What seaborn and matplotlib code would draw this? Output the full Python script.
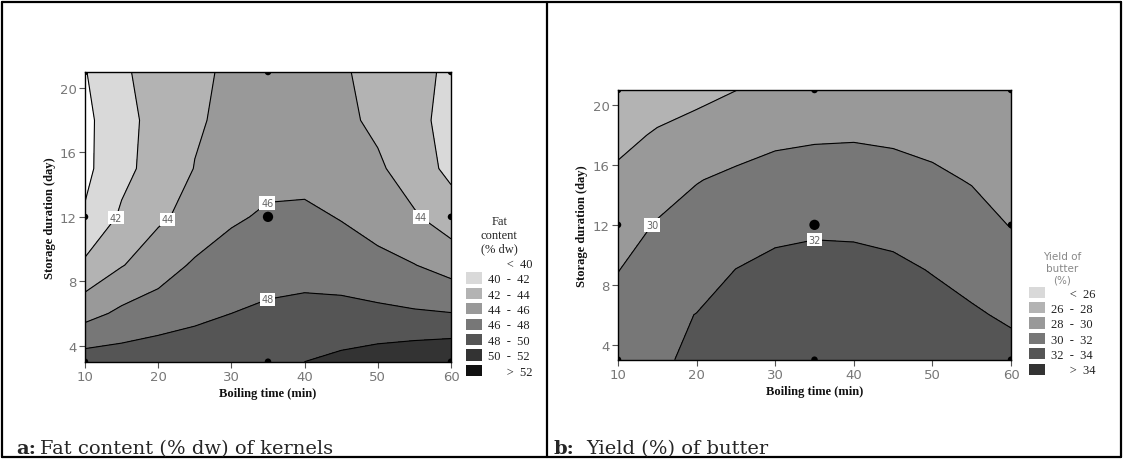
import numpy as np
import pandas as pd
import matplotlib
matplotlib.use("Agg")
import matplotlib.pyplot as plt
import seaborn as sns
from matplotlib.patches import Patch
from matplotlib.lines import Line2D

# ---------------- data ----------------
boil_time = [10, 15, 20, 25, 30, 35, 40, 45, 50, 55, 60]
storage_days = [3, 6, 9, 12, 15, 18, 21]

# fat content (% dw) of kernels, rows = storage_days, cols = boil_time
fat_content = [
    [49.0, 49.0, 49.2, 49.4, 49.6, 49.8, 50.0, 50.43, 50.94, 51.4, 51.8],
    [45.3, 46.4, 47.0, 47.5, 48.0, 48.25, 48.45, 48.6, 48.4, 48.2, 48.05],
    [42.35, 43.9, 45.05, 46.27, 47.0, 47.4, 47.4, 47.0, 46.6, 46.05, 45.2],
    [40.2, 42.3, 43.7, 44.6, 45.7, 46.3, 46.4, 45.9, 45.1, 44.2, 43.0],
    [39.55, 41.43, 42.84, 44.05, 44.6, 45.3, 45.3, 44.9, 44.3, 43.0, 41.5],
    [39.57, 41.23, 42.8, 43.8, 44.4, 44.9, 44.9, 44.45, 43.6, 42.5, 41.4],
    [39.9, 41.75, 42.67, 43.57, 44.35, 45.0, 44.9, 44.2, 43.47, 42.57, 41.63],
]

# yield (%) of butter
butter_yield = [
    [31.4, 31.8, 32.25, 32.9, 33.3, 33.5, 33.5, 33.3, 33.1, 32.8, 32.6],
    [30.7, 31.6, 32.03, 32.6, 33.0, 33.2, 33.2, 33.0, 32.6, 32.2, 31.75],
    [29.95, 31.0, 31.32, 32.02, 32.45, 32.6, 32.55, 32.35, 31.92, 31.44, 30.85],
    [29.15, 30.13, 30.63, 31.17, 31.53, 31.7, 31.66, 31.48, 31.12, 30.67, 29.93],
    [28.35, 29.15, 29.93, 30.33, 30.6, 30.75, 30.76, 30.6, 30.32, 29.9, 29.45],
    [27.55, 28.16, 28.68, 29.25, 29.67, 29.8, 29.85, 29.74, 29.5, 29.2, 28.9],
    [26.8, 27.2, 27.48, 27.98, 28.7, 28.9, 28.95, 28.9, 28.8, 28.5, 28.3],
]

design_time = [10, 10, 10, 35, 35, 35, 60, 60, 60]
design_days = [3, 12, 21, 3, 12, 21, 3, 12, 21]

fat_levels = [40, 42, 44, 46, 48, 50, 52]
yield_levels = [26, 28, 30, 32, 34]

NB = "\u00a0"
fat_legend = [NB * 6 + "<" + NB * 2 + "40", "40  -  42", "42  -  44", "44  -  46",
              "46  -  48", "48  -  50", "50  -  52", NB * 6 + ">" + NB * 2 + "52"]
yield_legend = [NB * 6 + "<" + NB * 2 + "26", "26  -  28", "28  -  30", "30  -  32",
                "32  -  34", NB * 6 + ">" + NB * 2 + "34"]

fat_label_pos = [(14.1, 12), (21, 12), (35, 12.8), (35, 6.8), (55.9, 12)]
yield_label_pos = [(14.3, 12), (35, 11)]

fat_colors = ["#ffffff", "#d9d9d9", "#b3b3b3", "#999999", "#777777",
              "#555555", "#333333", "#111111"]
yield_colors = ["#d9d9d9", "#b3b3b3", "#999999", "#777777", "#555555", "#333333"]

x_ticks = [10, 20, 30, 40, 50, 60]
y_ticks = [4, 8, 12, 16, 20]

# ---------------- style ----------------
sns.set_theme(style="white")
plt.rcParams["font.family"] = ["DejaVu Sans"]

W, H = 1123, 460
fig = plt.figure(figsize=(W / 100, H / 100), dpi=100)


def px_axes(l, t, r, b):
    return fig.add_axes([l / W, 1 - b / H, (r - l) / W, (b - t) / H])


def draw_panel(ax, z, levels, colors, label_pos):
    Z = np.array(z)
    lo = min(Z.min(), levels[0]) - 5
    hi = max(Z.max(), levels[-1]) + 5
    bounds = [lo] + list(levels) + [hi]
    ax.contourf(boil_time, storage_days, Z, levels=bounds, colors=colors)
    cs = ax.contour(boil_time, storage_days, Z, levels=levels,
                    colors="black", linewidths=0.8)
    texts = ax.clabel(cs, fmt="%d", inline=False, manual=label_pos,
                      fontsize=7, colors="#666666")
    for t in texts:
        t.set_rotation(0)
        t.set_bbox(dict(facecolor="white", edgecolor="none", pad=1.2))
        t.set_zorder(5)
    df = pd.DataFrame({"t": design_time, "d": design_days})
    sns.scatterplot(data=df, x="t", y="d", ax=ax, color="black", s=22,
                    edgecolor="none", legend=False, zorder=6)
    centre = df[(df.t == 35) & (df.d == 12)]
    sns.scatterplot(data=centre, x="t", y="d", ax=ax, color="black", s=55,
                    edgecolor="none", legend=False, zorder=6)
    ax.set_xlim(10, 60)
    ax.set_ylim(3, 21)
    ax.set_xticks(x_ticks)
    ax.set_yticks(y_ticks)
    ax.tick_params(axis="both", which="both", direction="out", length=4,
                   width=0.8, color="#555555", labelsize=9.5,
                   labelcolor="#777777", left=True, bottom=True, pad=2)
    for s in ax.spines.values():
        s.set_color("black")
        s.set_linewidth(1.0)
        s.set_zorder(7)
    ax.set_xlabel("Boiling time (min)", fontsize=9, fontweight="bold",
                  family="Liberation Serif", color="#111111")
    ax.set_ylabel("Storage duration (day)", fontsize=9, fontweight="bold",
                  family="Liberation Serif", color="#111111")


ax_a = px_axes(85, 73, 451, 362.7)
draw_panel(ax_a, fat_content, fat_levels, fat_colors, fat_label_pos)
ax_a.xaxis.set_label_coords(0.5, -0.086)
ax_a.yaxis.set_label_coords(-0.079, 0.5)

ax_b = px_axes(618, 91, 1011, 360.7)
draw_panel(ax_b, butter_yield, yield_levels, yield_colors, yield_label_pos)
ax_b.xaxis.set_label_coords(0.5, -0.094)
ax_b.yaxis.set_label_coords(-0.077, 0.5)

# legends
serif = {"family": "Liberation Serif", "size": 9}
h_a = [Patch(facecolor=c, edgecolor="none") for c in fat_colors]
leg_a = fig.legend(h_a, fat_legend, loc="upper left",
                   bbox_to_anchor=(466 / W, 1 - 216 / H), frameon=False,
                   prop=serif, title="Fat\ncontent\n(% dw)",
                   title_fontproperties={"family": "Liberation Serif", "size": 9},
                   handlelength=1.25, handleheight=1.0, labelspacing=0.2,
                   handletextpad=0.5, borderpad=0, borderaxespad=0)
leg_a.get_title().set_multialignment("center")
for t in leg_a.get_texts():
    t.set_color("#222222")

h_b = [Patch(facecolor=c, edgecolor="none") for c in yield_colors]
leg_b = fig.legend(h_b, yield_legend, loc="upper left",
                   bbox_to_anchor=(1029 / W, 1 - 252 / H), frameon=False,
                   prop=serif, title="Yield of\nbutter\n(%)",
                   title_fontproperties={"family": "DejaVu Sans", "size": 7.5},
                   handlelength=1.25, handleheight=1.0, labelspacing=0.2,
                   handletextpad=0.5, borderpad=0, borderaxespad=0)
leg_b.get_title().set_color("#888888")
leg_b.get_title().set_multialignment("center")
for t in leg_b.get_texts():
    t.set_color("#222222")

# table frame
lw = 1.6
for (x0, y0, x1, y1) in [(2, 3, 1121, 3), (2, 458, 1121, 458), (2, 3, 2, 458),
                         (1121, 3, 1121, 458), (546.5, 3, 546.5, 458)]:
    fig.add_artist(Line2D([x0 / W, x1 / W], [1 - y0 / H, 1 - y1 / H],
                          color="black", linewidth=lw, transform=fig.transFigure))

# captions
cap = {"family": "DejaVu Serif", "size": 14, "va": "baseline"}
fig.text(16 / W, 1 - 454 / H, "a:", fontweight="bold", **cap)
fig.text(40 / W, 1 - 454 / H, "Fat content (% dw) of kernels", **cap)
fig.text(554 / W, 1 - 454 / H, "b:", fontweight="bold", **cap)
fig.text(586 / W, 1 - 454 / H, "Yield (%) of butter", **cap)

fig.savefig("out.png", dpi=100, facecolor="white")
